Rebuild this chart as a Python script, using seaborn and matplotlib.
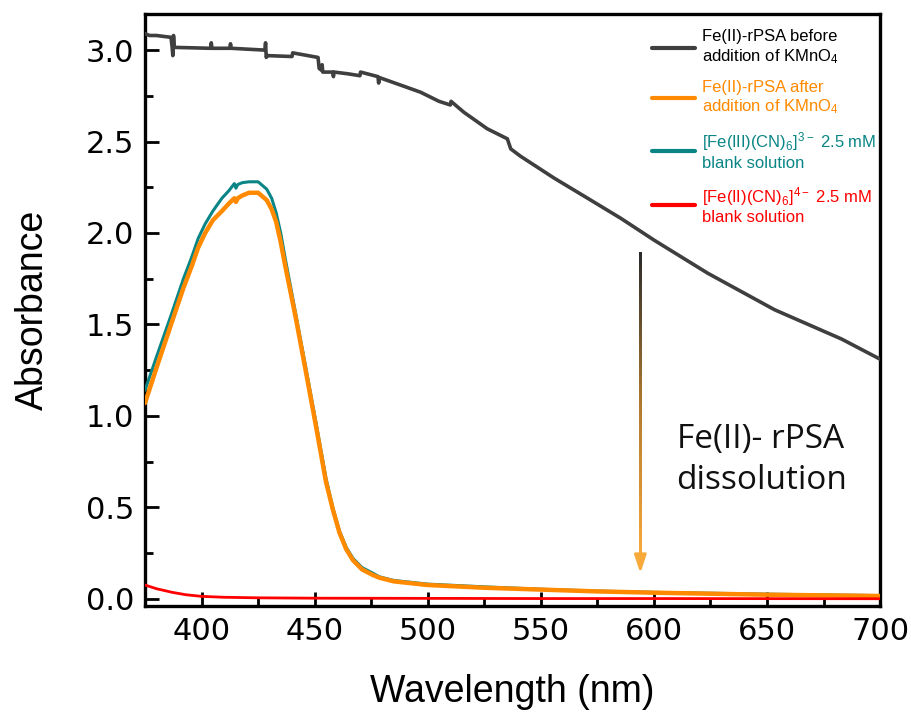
import numpy as np
import pandas as pd
import matplotlib
matplotlib.use("Agg")
import matplotlib.pyplot as plt
from matplotlib.collections import LineCollection
from matplotlib.colors import LinearSegmentedColormap
import seaborn as sns

# ---------------- data ----------------
before_wl = [375, 377, 380, 386.5, 387, 387.3, 387.6, 388, 404, 404.3, 404.6,
             412.5, 412.8, 413.1, 428, 428.3, 428.6, 429, 440, 440.3, 451.5, 452, 453,
             453.3, 453.6, 458, 458.3, 458.6, 465, 470, 470.3, 478, 478.3, 478.6, 490,
             496.8, 505, 510, 510.3, 516, 526.3, 535.2, 536.7, 541, 555.9, 570.7, 585.4,
             600.2, 623.8, 653.4, 683, 700]
before_abs = [3.09, 3.08, 3.08, 3.07, 3.015, 2.97, 3.08, 3.015, 3.01, 3.04, 3.01,
              3.01, 3.035, 3.01, 3.00, 3.04, 2.96, 2.97, 2.965, 2.985, 2.96, 2.90, 2.89,
              2.92, 2.88, 2.88, 2.855, 2.88, 2.87, 2.86, 2.88, 2.855, 2.82, 2.85, 2.80,
              2.77, 2.72, 2.70, 2.72, 2.66, 2.57, 2.515, 2.46, 2.42, 2.30, 2.19, 2.08,
              1.96, 1.78, 1.58, 1.42, 1.31]

peak_wl = [375, 380, 386.8, 392, 395.7, 398.5, 401.6, 405, 409, 412, 414.5, 415.2,
           416, 418, 421, 425, 428.8, 431, 433, 435, 437, 441.6, 446, 450.5, 455,
           458, 461, 464, 467, 471, 475.7, 478.6, 485, 500, 525, 550, 575, 600,
           650, 700]
ferri_abs = [1.14, 1.32, 1.56, 1.75, 1.87, 1.97, 2.05, 2.12, 2.19, 2.23, 2.27, 2.245,
             2.265, 2.275, 2.28, 2.28, 2.24, 2.19, 2.11, 2.00, 1.86, 1.56, 1.27,
             0.97, 0.66, 0.50, 0.37, 0.28, 0.22, 0.17, 0.14, 0.12, 0.10, 0.08,
             0.065, 0.052, 0.042, 0.035, 0.025, 0.017]
after_abs = [1.07, 1.26, 1.51, 1.70, 1.82, 1.92, 2.00, 2.07, 2.12, 2.16, 2.19, 2.17,
             2.19, 2.205, 2.22, 2.22, 2.18, 2.13, 2.06, 1.95, 1.82, 1.54, 1.25,
             0.95, 0.64, 0.49, 0.36, 0.27, 0.21, 0.16, 0.13, 0.115, 0.095, 0.075,
             0.06, 0.05, 0.04, 0.033, 0.022, 0.015]

ferro_wl = [375, 380, 387, 393, 400, 410, 425, 450, 500, 550, 600, 700]
ferro_abs = [0.075, 0.055, 0.035, 0.022, 0.013, 0.008, 0.005, 0.003, 0.002,
             0.001, 0.001, 0.0]

labels = ["Fe(II)-rPSA before\naddition of KMnO$_4$",
          "Fe(II)-rPSA after\naddition of KMnO$_4$",
          "[Fe(III)(CN)$_6$]$^{3-}$ 2.5 mM\nblank solution",
          "[Fe(II)(CN)$_6$]$^{4-}$ 2.5 mM\nblank solution"]
colors = ["#3f3f3f", "#ff8a00", "#0a8585", "#ff0000"]

# ---------------- style ----------------
sns.set_theme(style="ticks")
plt.rcParams["font.family"] = ["Liberation Sans", "DejaVu Sans"]
plt.rcParams["mathtext.default"] = "regular"
plt.rcParams["text.color"] = "black"
plt.rcParams["axes.labelcolor"] = "black"

fig = plt.figure(figsize=(9.12, 7.13), dpi=100)
ax = fig.add_axes([0.159, 0.150, 0.806, 0.831])

df_before = pd.DataFrame({"wl": before_wl, "A": before_abs})
df_ferri = pd.DataFrame({"wl": peak_wl, "A": ferri_abs})
df_after = pd.DataFrame({"wl": peak_wl, "A": after_abs})
df_ferro = pd.DataFrame({"wl": ferro_wl, "A": ferro_abs})

sns.lineplot(data=df_before, x="wl", y="A", ax=ax, color=colors[0], lw=2.6,
             estimator=None, sort=False, zorder=3)
sns.lineplot(data=df_ferri, x="wl", y="A", ax=ax, color=colors[2], lw=2.2,
             estimator=None, sort=False, zorder=3)
sns.lineplot(data=df_after, x="wl", y="A", ax=ax, color=colors[1], lw=3.2,
             estimator=None, sort=False, zorder=4)
sns.lineplot(data=df_ferro, x="wl", y="A", ax=ax, color=colors[3], lw=2.0,
             estimator=None, sort=False, zorder=5)

ax.set_xlim(375, 700)
ax.set_ylim(-0.04, 3.2)
ax.set_xticks([400, 450, 500, 550, 600, 650, 700])
ax.set_xticks(np.arange(425, 700, 50), minor=True)
ax.set_yticks([0.0, 0.5, 1.0, 1.5, 2.0, 2.5, 3.0])
ax.set_yticks(np.arange(0.25, 3.2, 0.5), minor=True)
ax.set_yticklabels(["0.0", "0.5", "1.0", "1.5", "2.0", "2.5", "3.0"])
ax.tick_params(which="major", direction="in", length=10, width=2,
               labelsize=22, color="black", labelcolor="black", pad=8)
ax.tick_params(which="minor", direction="in", length=6, width=2, color="black")
for lab in ax.get_xticklabels() + ax.get_yticklabels():
    lab.set_fontfamily(["DejaVu Sans"])
for s in ax.spines.values():
    s.set_linewidth(2.4)
    s.set_color("black")

ax.set_xlabel("Wavelength (nm)", fontsize=27, labelpad=20)
ax.set_ylabel("Absorbance", fontsize=27, labelpad=25)

# legend
handles = [plt.Line2D([], [], color=c, lw=3) for c in colors]
leg = ax.legend(handles, labels, loc="upper left", bbox_to_anchor=(0.68, 0.985),
                frameon=False, fontsize=12, handlelength=2.6, handletextpad=0.4,
                labelspacing=0.85, borderaxespad=0)
for t, c in zip(leg.get_texts(), ["black", colors[1], colors[2], colors[3]]):
    t.set_color(c)
    t.set_linespacing(1.2)

# gradient arrow
x0 = 594
ys = np.linspace(1.89, 0.22, 80)
pts = np.array([[x0, y] for y in ys]).reshape(-1, 1, 2)
segs = np.concatenate([pts[:-1], pts[1:]], axis=1)
cmap = LinearSegmentedColormap.from_list("arr", ["#2b2b2b", "#b07a30", "#f7a93a"])
lc = LineCollection(segs, colors=cmap(np.linspace(0, 1, len(segs))), linewidths=2.0,
                    capstyle="projecting", antialiaseds=False, zorder=6)
ax.add_collection(lc)
ax.annotate("", xy=(x0, 0.14), xytext=(x0, 0.26),
            arrowprops=dict(arrowstyle="-|>,head_length=0.9,head_width=0.3",
                            color="#f7a93a", lw=2.0, shrinkA=0, shrinkB=0), zorder=6)

ax.text(610, 0.557, "Fe(II)- rPSA\ndissolution", fontsize=24, family="Open Sans",
        color="#111111", linespacing=1.3, va="bottom", ha="left")

fig.savefig("out.png", dpi=100)
